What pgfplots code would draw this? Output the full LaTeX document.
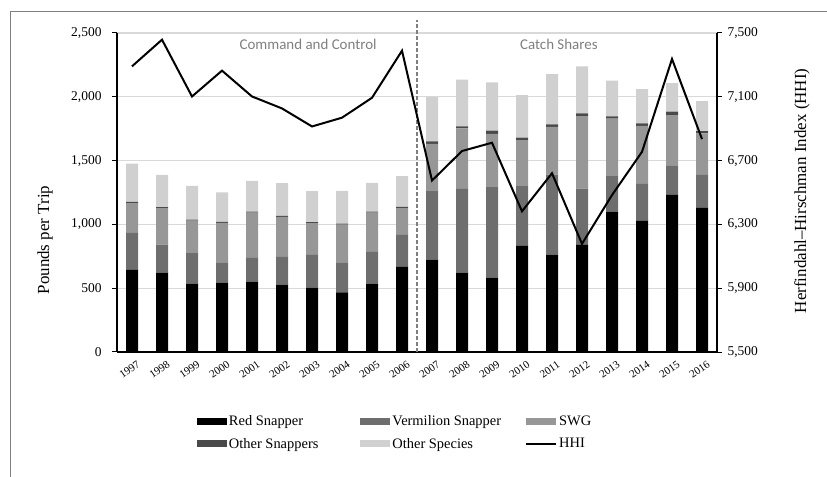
\documentclass[border=0pt]{standalone}
\usepackage{fontspec}
\setmainfont{Liberation Serif}
\newfontfamily\calibri{Carlito}
\usepackage{pgfplots}
\pgfplotsset{compat=1.18}
\usepackage{pgfplotstable}

\definecolor{cRed}{gray}{0}
\definecolor{cVer}{HTML}{6E6E6E}
\definecolor{cSWG}{HTML}{979797}
\definecolor{cOS}{HTML}{4A4A4A}
\definecolor{cOth}{HTML}{D0D0D0}
\definecolor{gridc}{HTML}{D9D9D9}
\definecolor{txtgray}{HTML}{7F7F7F}

\pgfplotsset{
  barleg/.style={legend image code/.code={\fill[##1] (0bp,-3.5bp) rectangle (30bp,3.5bp);}},
  lineleg/.style={legend image code/.code={\draw[##1] (0bp,0bp) -- (30bp,0bp);}},
}

\pgfplotstableread{
x year red ver swg os oth hhi
0 1997 643 291 233 10 300 7291
1 1998 622 220 285 8 254 7458
2 1999 536 238 256 8 264 7102
3 2000 544 159 309 8 230 7264
4 2001 552 185 356 8 240 7102
5 2002 528 217 314 8 256 7027
6 2003 505 256 248 8 243 6914
7 2004 468 235 296 8 256 6969
8 2005 536 248 309 8 225 7094
9 2006 667 251 210 10 240 7389
10 2007 724 536 372 18 350 6575
11 2008 622 657 473 16 366 6760
12 2009 583 709 418 24 379 6812
13 2010 832 468 361 20 333 6382
14 2011 764 626 375 18 395 6621
15 2012 839 442 568 21 368 6178
16 2013 1101 277 450 18 280 6484
17 2014 1028 290 455 18 270 6755
18 2015 1232 230 395 26 225 7337
19 2016 1130 259 324 18 236 6835
}\data

\begin{document}
\begin{tikzpicture}
\useasboundingbox (0bp,0bp) rectangle (827bp,477bp);
\draw[txtgray, line width=1.2bp] (10.5bp,0bp) -- (10.5bp,465.5bp) -- (827bp,465.5bp);

\begin{axis}[
  at={(117bp,125bp)}, anchor=south west,
  scale only axis, width=600bp, height=319bp,
  xmin=-0.5, xmax=19.5, ymin=0, ymax=2500,
  clip=false,
  ybar stacked, bar width=12bp,
  axis x line*=bottom, axis y line*=left,
  axis line style={black, line width=1.1bp},
  tick align=outside,
  xtick={0,...,19},
  xticklabels={1997,1998,1999,2000,2001,2002,2003,2004,2005,2006,2007,2008,2009,2010,2011,2012,2013,2014,2015,2016},
  x tick style={draw=none},
  minor xtick={-0.5,0.5,...,19.5},
  minor x tick style={black, line width=1bp},
  minor tick length=5bp,
  major tick length=5bp,
  xticklabel style={font=\fontsize{11}{13}\selectfont, rotate=35, anchor=north east, inner sep=1pt, xshift=3bp, yshift=-4bp},
  ytick={0,500,...,2500},
  y tick style={black, line width=1bp},
  scaled y ticks=false,
  yticklabel style={font=\fontsize{13.5}{15}\selectfont, xshift=-7bp, /pgf/number format/1000 sep={,}, /pgf/number format/assume math mode=true},
  ymajorgrids, grid style={gridc, line width=1.2bp},
]
\addplot[fill=cRed, draw=none] table[x=x,y=red]{\data};
\addplot[fill=cVer, draw=none] table[x=x,y=ver]{\data};
\addplot[fill=cSWG, draw=none] table[x=x,y=swg]{\data};
\addplot[fill=cOS, draw=none] table[x=x,y=os]{\data};
\addplot[fill=cOth, draw=none] table[x=x,y=oth]{\data};
\draw[txtgray, line width=2.4bp, dash pattern=on 4bp off 2bp] (axis cs:9.5,0) -- (axis cs:9.5,2600);
\node[font=\calibri\fontsize{15}{18}\selectfont, text=txtgray] at (axis cs:5.87,2414) {Command and Control};
\node[font=\calibri\fontsize{15}{18}\selectfont, text=txtgray] at (axis cs:14.23,2414) {Catch Shares};
\node[font=\fontsize{17}{20}\selectfont, rotate=90] at ([xshift=-72bp]rel axis cs:0,0.351) {Pounds per Trip};
\end{axis}

\begin{axis}[
  at={(117bp,125bp)}, anchor=south west,
  scale only axis, width=600bp, height=319bp,
  xmin=-0.5, xmax=19.5, ymin=5500, ymax=7500,
  clip=false,
  axis x line=none, axis y line*=right,
  axis line style={black, line width=1.1bp},
  tick align=outside, major tick length=5bp,
  ytick={5500,5900,...,7500},
  y tick style={black, line width=1bp},
  scaled y ticks=false,
  yticklabel style={font=\fontsize{13.5}{15}\selectfont, xshift=2bp, /pgf/number format/1000 sep={,}, /pgf/number format/assume math mode=true},
  legend columns=3,
  legend cell align=left,
  legend style={draw=none, fill=none, font=\fontsize{14.5}{16}\selectfont,
    at={(axis description cs:0.128,-0.253)}, anchor=west, row sep=7bp,
    /tikz/column 2/.style={column sep=40bp},
    /tikz/column 4/.style={column sep=22bp}},
]
\addlegendimage{barleg, fill=cRed, draw=none}
\addlegendentry{Red Snapper}
\addlegendimage{barleg, fill=cVer, draw=none}
\addlegendentry{Vermilion Snapper}
\addlegendimage{barleg, fill=cSWG, draw=none}
\addlegendentry{SWG}
\addlegendimage{barleg, fill=cOS, draw=none}
\addlegendentry{Other Snappers}
\addlegendimage{barleg, fill=cOth, draw=none}
\addlegendentry{Other Species}
\addplot[black, line width=2bp, mark=none, lineleg] table[x=x,y=hhi]{\data};
\addlegendentry{HHI}
\node[font=\fontsize{17}{20}\selectfont, rotate=90] at ([xshift=85bp]rel axis cs:1,0.505) {Herfindahl--Hirschman Index (HHI)};
\end{axis}
\end{tikzpicture}
\end{document}
